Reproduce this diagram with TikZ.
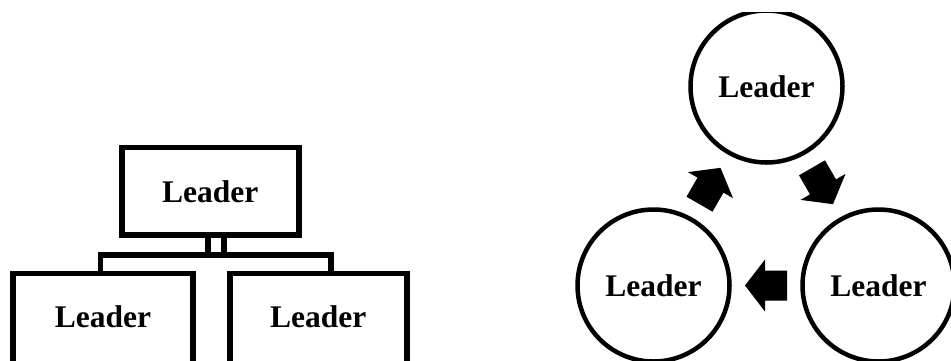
\documentclass[tikz,border=0pt]{standalone}
\usepackage{fontspec}
\setmainfont{Liberation Serif}
\usetikzlibrary{calc}
\begin{document}
\begin{tikzpicture}[x=1pt,y=-1pt,
  lw/.style={line width=5.5pt},
  lbl/.style={font=\fontsize{31.5}{36}\selectfont\bfseries},
  topbox/.style={lw, draw, lbl, inner sep=0pt, minimum width=177pt, text height=55.5pt, text depth=32pt},
  lowbox/.style={lw, draw, lbl, inner sep=0pt, text height=54.5pt, text depth=45pt},
  ring/.style={circle, draw, line width=4.5pt, lbl, inner sep=0pt, minimum size=152pt},
  blockarrow/.style={fill=black}
]
\useasboundingbox (0,0) rectangle (951,360);
\begin{scope}
\clip (0,12) rectangle (951,360);
% hierarchy
\node[topbox, anchor=north west] (top) at (119,144.5) {Leader};
\node[lowbox, anchor=north west, minimum width=179.7pt] (bl) at (10.3,270.5) {Leader};
\node[lowbox, anchor=north west, minimum width=177pt] (br) at (227,270.5) {Leader};
\coordinate (stemL) at (208,255);
\coordinate (stemR) at (224,255);
\coordinate (legL) at (100.5,255);
\coordinate (legR) at (331,255);
\draw[lw] (top.south -| stemL) -- (stemL) (top.south -| stemR) -- (stemR);
\draw[lw] (bl.north -| legL) -- (legL) -- (legR) -- (br.north -| legR);
% cycle
\node[ring] (ct) at (766.5,86.5) {Leader};
\node[ring] (cl) at (653.5,285.5) {Leader};
\node[ring] (cr) at (878.5,285.5) {Leader};
\fill[blockarrow, shift={($(cl)!0.5!(ct)$)}, rotate=60]
  (-21,-15) -- (1,-15) -- (1,-26) -- (21,0) -- (1,26) -- (1,15) -- (-21,15) -- cycle;
\fill[blockarrow, shift={($(ct)!0.5!(cr)$)}, rotate=-60]
  (-21,-15) -- (1,-15) -- (1,-26) -- (21,0) -- (1,26) -- (1,15) -- (-21,15) -- cycle;
\fill[blockarrow, shift={($(cr)!0.5!(cl)$)}, rotate=180]
  (-21,-15) -- (1,-15) -- (1,-26) -- (21,0) -- (1,26) -- (1,15) -- (-21,15) -- cycle;
\end{scope}
\end{tikzpicture}
\end{document}
